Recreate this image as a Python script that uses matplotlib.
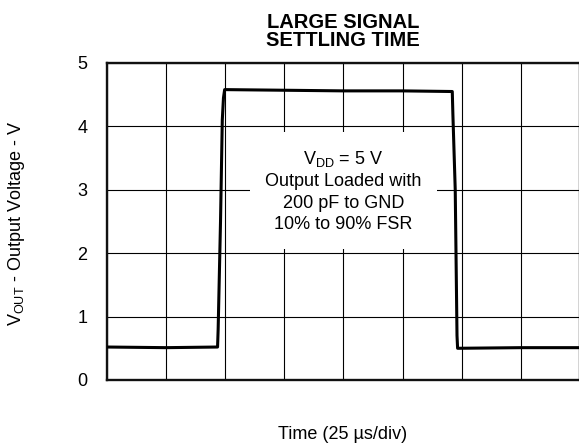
import matplotlib
matplotlib.use("Agg")
import matplotlib.pyplot as plt

plt.rcParams['font.family'] = ['Liberation Sans', 'DejaVu Sans']
plt.rcParams['mathtext.fontset'] = 'custom'
plt.rcParams['mathtext.rm'] = 'Liberation Sans'
plt.rcParams['mathtext.it'] = 'Liberation Sans:italic'

# waveform (x in divisions, y in volts)
t_div = [0.0, 1.0, 1.87, 1.88, 1.92, 1.95, 1.97, 1.99, 3.0, 4.0, 5.0, 5.84,
         5.85, 5.87, 5.89, 5.92, 5.93, 7.0, 8.0]
v_out = [0.52, 0.51, 0.52, 0.8, 2.5, 4.1, 4.45, 4.58, 4.57, 4.56, 4.56, 4.55,
         4.2, 3.6, 3.0, 0.7, 0.5, 0.51, 0.51]

y_ticks = [0, 1, 2, 3, 4, 5]
x_grid = [0, 1, 2, 3, 4, 5, 6, 7, 8]

title = "LARGE SIGNAL\nSETTLING TIME"
note = "V$_{\\mathrm{DD}}$ = 5 V\nOutput Loaded with\n200 pF to GND\n10% to 90% FSR"
xlabel = "Time (25 \u00b5s/div)"
ylabel = "V$_{\\mathrm{OUT}}$ - Output Voltage - V"

fig = plt.figure(figsize=(5.79, 4.47), dpi=100)
ax = fig.add_axes([0.1848, 0.1499, 0.8169, 0.7092])

ax.plot(t_div, v_out, color="black", lw=2.2, zorder=3)

ax.set_xlim(0, 8)
ax.set_ylim(0, 5)
ax.set_xticks(x_grid)
ax.set_xticklabels([])
ax.set_yticks(y_ticks)
ax.tick_params(length=0, labelsize=13, pad=14)
ax.grid(True, color="black", lw=0.8)
ax.set_axisbelow(True)
for s in ax.spines.values():
    s.set_linewidth(1.7)
    s.set_color("#111111")

ax.text(4, 2.98, note, ha="center", va="center", fontsize=13,
        linespacing=1.35, zorder=2,
        bbox=dict(facecolor="white", edgecolor="none", pad=11))

fig.text(0.5924, 0.929, title, ha="center", va="center", fontsize=14.5,
         fontweight="bold", linespacing=0.95)
fig.text(0.5924, 0.027, xlabel, ha="center", va="center", fontsize=13)
fig.text(0.029, 0.50, ylabel, ha="center", va="center", rotation=90, fontsize=13)

fig.savefig("out.png", dpi=100)
